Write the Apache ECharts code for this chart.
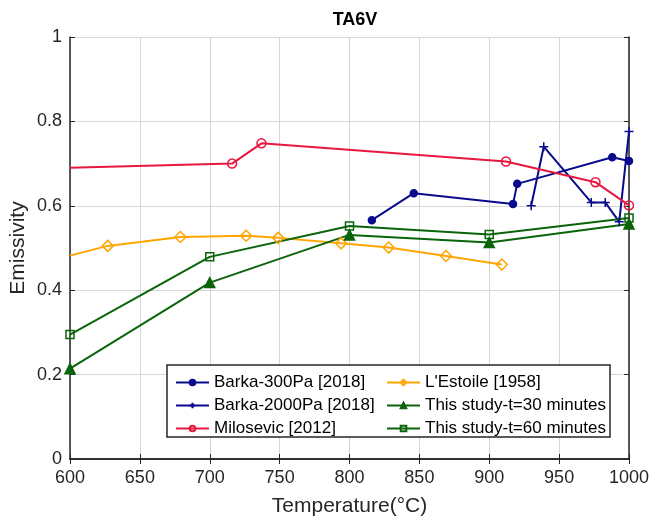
<!DOCTYPE html>
<html>
<head>
<meta charset="utf-8">
<style type="text/css">
html, body { margin: 0; padding: 0; background: #fff; }
#chart { width: 654px; height: 517px; }
</style>
<script type="text/javascript" src="https://cdn.jsdelivr.net/npm/echarts@6/dist/echarts.min.js"></script>
</head>
<body>
<div id="chart"></div>
<script type="text/javascript">
// values
var barka300T = [816, 846, 917, 920, 988, 1000];
var barka300E = [0.566, 0.630, 0.604, 0.652, 0.715, 0.706];

var barka2000T = [930, 939, 973, 983, 993, 1000];
var barka2000E = [0.600, 0.740, 0.608, 0.608, 0.562, 0.776];

var miloT = [600, 716, 737, 912, 976, 1000];
var miloE = [0.690, 0.700, 0.748, 0.705, 0.656, 0.601];

var lestT = [600, 627, 679, 726, 749, 794, 828, 869, 909];
var lestE = [0.482, 0.505, 0.526, 0.529, 0.524, 0.511, 0.501, 0.481, 0.461];

var studyT = [600, 700, 800, 900, 1000];
var study30 = [0.214, 0.418, 0.531, 0.513, 0.557];
var study60 = [0.295, 0.479, 0.552, 0.532, 0.571];

var xTicks = [600, 650, 700, 750, 800, 850, 900, 950, 1000];
var yTicks = [0, 0.2, 0.4, 0.6, 0.8, 1];

var FONT = 'Liberation Sans, Arial, sans-serif';
var INK = '#262626';

function pairs(t, v, noMarkFirst) {
	return t.map(function (x, i) {
		var d = { value: [x, v[i]] };
		if (noMarkFirst && i === 0) {
			d.symbol = 'none';
		}
		return d;
	});
}

function line(name, t, v, color, sym, size, hollow, noMarkFirst) {
	return {
		name: name,
		type: 'line',
		data: pairs(t, v, noMarkFirst),
		symbol: sym,
		symbolSize: size,
		showAllSymbol: true,
		clip: false,
		lineStyle: { color: color, width: 2 },
		itemStyle: {
			color: hollow ? 'rgba(255,255,255,0)' : color,
			borderColor: color,
			borderWidth: 1.5
		},
		emphasis: { disabled: true }
	};
}

var chart = echarts.init(document.getElementById('chart'));

var xBase = {
	type: 'value', min: 600, max: 1000, interval: 50,
	axisLine: { lineStyle: { color: INK, width: 1.5 } },
	axisTick: { inside: true, length: 5, lineStyle: { color: INK, width: 1 } }
};
var yBase = {
	type: 'value', min: 0, max: 1, interval: 0.2,
	axisLine: { lineStyle: { color: INK, width: 1.5 } },
	axisTick: { inside: true, length: 5, lineStyle: { color: INK, width: 1 } }
};

var legendText = { fontFamily: FONT, fontSize: 17, color: '#000' };

chart.setOption({
	animation: false,
	title: {
		text: 'TA6V',
		left: 350, top: 6, textAlign: 'center',
		textStyle: { fontFamily: FONT, fontSize: 18, fontWeight: 'bold', color: '#000' }
	},
	grid: { left: 70, right: 25, top: 37, bottom: 58, outerBoundsMode: 'none', containLabel: false },
	xAxis: [
		Object.assign({}, xBase, {
			position: 'bottom',
			name: 'Temperature(°C)',
			nameLocation: 'middle',
			nameGap: 37,
			nameMoveOverlap: false,
			nameTextStyle: { fontFamily: FONT, fontSize: 21, color: INK },
			axisLabel: {
				margin: 10, fontFamily: FONT, fontSize: 18, color: INK,
				formatter: function (v) { return xTicks.indexOf(v) >= 0 ? String(v) : ''; }
			},
			splitLine: { show: true, lineStyle: { color: '#d6d6d6', width: 1 } }
		}),
		Object.assign({}, xBase, {
			position: 'top',
			axisLabel: { show: false },
			splitLine: { show: false }
		})
	],
	yAxis: [
		Object.assign({}, yBase, {
			position: 'left',
			name: 'Emissivity',
			nameLocation: 'middle',
			nameGap: 41,
			nameMoveOverlap: false,
			nameTextStyle: { fontFamily: FONT, fontSize: 21, color: INK },
			axisLabel: {
				margin: 8, fontFamily: FONT, fontSize: 18, color: INK,
				formatter: function (v) {
					var r = Math.round(v * 10) / 10;
					return yTicks.indexOf(r) >= 0 ? String(r) : '';
				}
			},
			splitLine: { show: true, lineStyle: { color: '#d6d6d6', width: 1 } }
		}),
		Object.assign({}, yBase, {
			position: 'right',
			axisLabel: { show: false },
			splitLine: { show: false }
		})
	],
	graphic: [{
		type: 'rect',
		z: 3,
		shape: { x: 167, y: 365, width: 443, height: 72 },
		style: { fill: '#fff', stroke: INK, lineWidth: 1.5 }
	}],
	legend: [{
		orient: 'vertical', left: 170, top: 369,
		itemWidth: 33, itemHeight: 7, itemGap: 6,
		textStyle: legendText, z: 5,
		data: ['Barka-300Pa [2018]', 'Barka-2000Pa [2018]', 'Milosevic [2012]']
	}, {
		orient: 'vertical', left: 381, top: 369,
		itemWidth: 33, itemHeight: 7, itemGap: 6,
		textStyle: legendText, z: 5,
		data: ["L'Estoile [1958]", 'This study-t=30 minutes', 'This study-t=60 minutes']
	}],
	series: [
		line('Barka-300Pa [2018]', barka300T, barka300E, '#0a0a8c', 'circle', 7, false, false),
		line('Barka-2000Pa [2018]', barka2000T, barka2000E, '#0a0a8c', 'path://M0,-1L0,1M-1,0L1,0', 9, false, false),
		line('Milosevic [2012]', miloT, miloE, '#e8173f', 'circle', 9, true, true),
		line("L'Estoile [1958]", lestT, lestE, '#ffa500', 'diamond', 11, true, true),
		line('This study-t=30 minutes', studyT, study30, '#0a640a', 'triangle', 10, false, false),
		line('This study-t=60 minutes', studyT, study60, '#0a640a', 'rect', 8, true, false)
	]
});
</script>
</body>
</html>
